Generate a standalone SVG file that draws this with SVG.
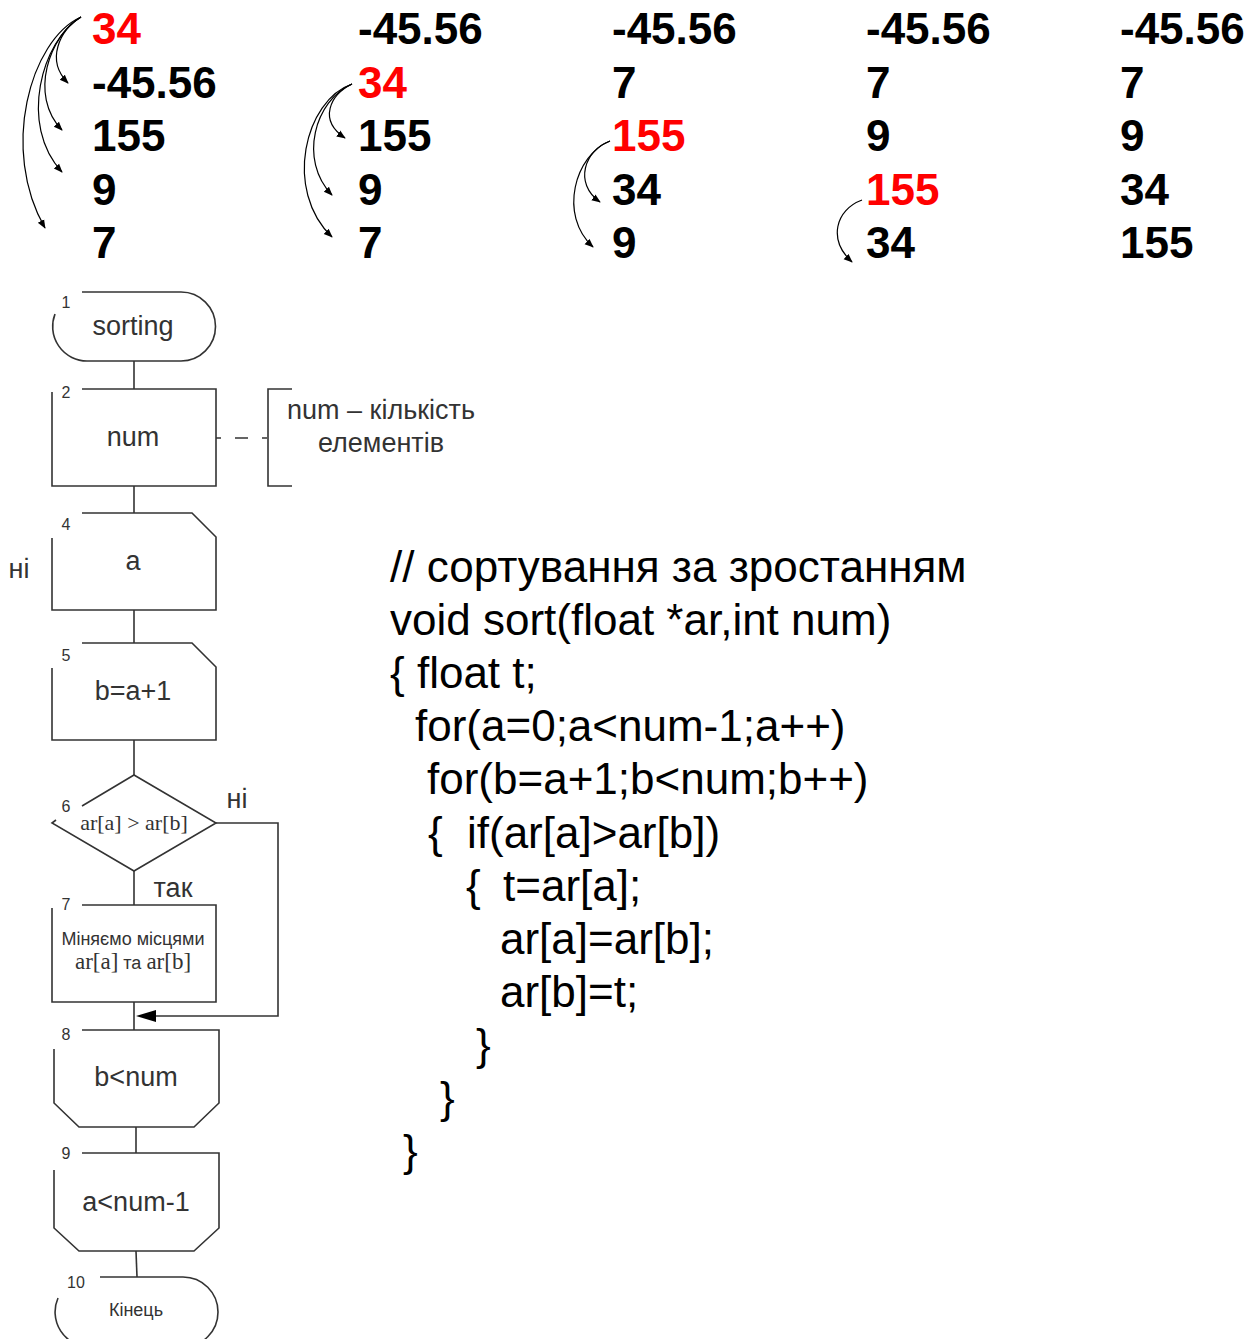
<svg xmlns="http://www.w3.org/2000/svg" width="1259" height="1339" viewBox="0 0 1259 1339">
  <style>
    .num { font-family: "Liberation Sans", Arial, sans-serif; font-weight: bold; font-size: 44px; fill: #000; }
    .hot { fill: #ff0000; }
    .code { font-family: "Liberation Sans", Arial, sans-serif; font-size: 44px; fill: #000; }
    .shape { fill: none; stroke: #333; stroke-width: 1.6; }
    .conn { fill: none; stroke: #333; stroke-width: 1.6; }
    .lbl { font-family: "Liberation Sans", Arial, sans-serif; font-size: 27px; fill: #333; text-anchor: middle; }
    .small { font-family: "Liberation Sans", Arial, sans-serif; font-size: 18px; fill: #333; text-anchor: middle; }
    .serif { font-family: "Liberation Serif", "Times New Roman", serif; }
    .cond { font-size: 22px; }
    .arr { font-size: 23px; }
    .idx { font-family: "Liberation Sans", Arial, sans-serif; font-size: 16px; fill: #333; text-anchor: middle; }
    .swap { fill: none; stroke: #000; stroke-width: 1.2; }
  </style>
  <defs>
    <marker id="ah" viewBox="0 0 10 10" refX="9" refY="5" markerWidth="9" markerHeight="9" markerUnits="userSpaceOnUse" orient="auto">
      <path d="M0,1 L10,5 L0,9 z" fill="#000"/>
    </marker>
  </defs>

  <!-- array states after each pass -->
  <g id="pass1">
    <text class="num hot" x="92" y="44">34</text>
    <text class="num" x="92" y="98">-45.56</text>
    <text class="num" x="92" y="151">155</text>
    <text class="num" x="92" y="205">9</text>
    <text class="num" x="92" y="258">7</text>
    <path class="swap" marker-end="url(#ah)" d="M81,17 C60,30 45,60 68,83"/>
    <path class="swap" marker-end="url(#ah)" d="M81,17 C50,35 28,95 62,130"/>
    <path class="swap" marker-end="url(#ah)" d="M81,17 C42,40 18,125 62,172"/>
    <path class="swap" marker-end="url(#ah)" d="M81,17 C30,40 0,150 45,228"/>
  </g>
  <g id="pass2">
    <text class="num" x="358" y="44">-45.56</text>
    <text class="num hot" x="358" y="98">34</text>
    <text class="num" x="358" y="151">155</text>
    <text class="num" x="358" y="205">9</text>
    <text class="num" x="358" y="258">7</text>
    <path class="swap" marker-end="url(#ah)" d="M352,84 C330,95 318,120 345,138"/>
    <path class="swap" marker-end="url(#ah)" d="M352,84 C315,100 298,160 332,195"/>
    <path class="swap" marker-end="url(#ah)" d="M352,84 C305,100 283,190 332,237"/>
  </g>
  <g id="pass3">
    <text class="num" x="612" y="44">-45.56</text>
    <text class="num" x="612" y="98">7</text>
    <text class="num hot" x="612" y="151">155</text>
    <text class="num" x="612" y="205">34</text>
    <text class="num" x="612" y="258">9</text>
    <path class="swap" marker-end="url(#ah)" d="M610,141 C585,150 573,183 600,202"/>
    <path class="swap" marker-end="url(#ah)" d="M610,141 C575,155 558,215 593,247"/>
  </g>
  <g id="pass4">
    <text class="num" x="866" y="44">-45.56</text>
    <text class="num" x="866" y="98">7</text>
    <text class="num" x="866" y="151">9</text>
    <text class="num hot" x="866" y="205">155</text>
    <text class="num" x="866" y="258">34</text>
    <path class="swap" marker-end="url(#ah)" d="M862,200 C835,210 828,240 852,262"/>
  </g>
  <g id="pass5">
    <text class="num" x="1120" y="44">-45.56</text>
    <text class="num" x="1120" y="98">7</text>
    <text class="num" x="1120" y="151">9</text>
    <text class="num" x="1120" y="205">34</text>
    <text class="num" x="1120" y="258">155</text>
  </g>

  <!-- flowchart connectors -->
  <g id="connectors">
    <path class="conn" d="M134,361 V389"/>
    <path class="conn" d="M134,486 V513"/>
    <path class="conn" d="M134,610 V643"/>
    <path class="conn" d="M134,740 V775"/>
    <path class="conn" d="M134,871 V905"/>
    <path class="conn" d="M134,1002 V1030"/>
    <path class="conn" d="M136,1127 V1153"/>
    <path class="conn" d="M136,1251 L137,1277"/>
    <path class="conn" d="M216,823 H278 V1016 H150"/>
    <polygon points="136,1016 156,1010 156,1022" fill="#000"/>
    <path class="conn" d="M216,438 H268" stroke-dasharray="5 14 13 14"/>
    <text class="lbl" x="19" y="578">ні</text>
    <text class="lbl" x="237" y="808">ні</text>
    <text class="lbl" x="173" y="897">так</text>
  </g>

  <g id="n1">
    <path class="shape" d="M82,292 H181 A34.5,34.5 0 0 1 181,361 H87 A34.5,34.5 0 0 1 55,314"/>
    <text class="idx" x="66" y="308">1</text>
    <text class="lbl" x="133" y="335">sorting</text>
  </g>
  <g id="n2">
    <path class="shape" d="M82,389 H216 V486 H52 V392"/>
    <text class="idx" x="66" y="398">2</text>
    <text class="lbl" x="133" y="446">num</text>
  </g>
  <g id="n3">
    <path class="shape" d="M292,389 H268 V486 H292"/>
    <text class="lbl" x="381" y="419">num – кількість</text>
    <text class="lbl" x="381" y="452">елементів</text>
  </g>
  <g id="n4">
    <path class="shape" d="M82,513 H192 L216,537 V610 H52 V538"/>
    <text class="idx" x="66" y="530">4</text>
    <text class="lbl" x="133" y="570">a</text>
  </g>
  <g id="n5">
    <path class="shape" d="M82,643 H192 L216,667 V740 H52 V668"/>
    <text class="idx" x="66" y="661">5</text>
    <text class="lbl" x="133" y="700">b=a+1</text>
  </g>
  <g id="n6">
    <path class="shape" d="M82,806 L134,775 L216,823 L134,871 L52,823 L56,820"/>
    <text class="idx" x="66" y="812">6</text>
    <text class="lbl serif cond" x="134" y="830">ar[a] &gt; ar[b]</text>
  </g>
  <g id="n7">
    <path class="shape" d="M82,905 H216 V1002 H52 V908"/>
    <text class="idx" x="66" y="910">7</text>
    <text class="small" x="133" y="945">Міняємо місцями</text>
    <text class="small" x="133" y="969"><tspan class="serif arr">ar[a]</tspan> та <tspan class="serif arr">ar[b]</tspan></text>
  </g>
  <g id="n8">
    <path class="shape" d="M82,1030 H219 V1103 L194,1127 H79 L54,1103 V1049"/>
    <text class="idx" x="66" y="1040">8</text>
    <text class="lbl" x="136" y="1086">b&lt;num</text>
  </g>
  <g id="n9">
    <path class="shape" d="M82,1153 H219 V1228 L194,1251 H79 L54,1228 V1170"/>
    <text class="idx" x="66" y="1159">9</text>
    <text class="lbl" x="136" y="1211">a&lt;num-1</text>
  </g>
  <g id="n10">
    <path class="shape" d="M100,1277 H183 A35,35 0 0 1 183,1347 H90 A35,35 0 0 1 58,1298"/>
    <text class="idx" x="76" y="1288">10</text>
    <text class="small" x="136" y="1316">Кінець</text>
  </g>

  <!-- C source of the sorting routine -->
  <g id="code" class="code">
    <text x="390" y="582">// сортування за зростанням</text>
    <text x="390" y="635">void sort(float *ar,int num)</text>
    <text x="390" y="688">{ float t;</text>
    <text x="415" y="741">for(a=0;a&lt;num-1;a++)</text>
    <text x="427" y="794">for(b=a+1;b&lt;num;b++)</text>
    <text x="428" y="848">{</text>
    <text x="467" y="848">if(ar[a]&gt;ar[b])</text>
    <text x="466" y="901">{</text>
    <text x="503" y="901">t=ar[a];</text>
    <text x="500" y="954">ar[a]=ar[b];</text>
    <text x="500" y="1007">ar[b]=t;</text>
    <text x="476" y="1060">}</text>
    <text x="440" y="1113">}</text>
    <text x="403" y="1166">}</text>
  </g>
</svg>
